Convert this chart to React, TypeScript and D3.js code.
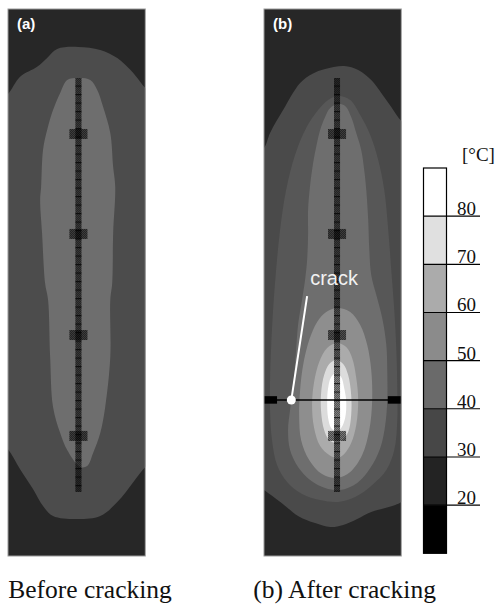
import React, { useEffect, useRef } from "react";
import * as d3 from "d3";

type Pt = [number, number];

// Specimen coordinates: x across the section (0-100), y down from the top (0-400).
// Each ring is the outline of the zone hotter than the named temperature.

// (a) before cracking
const beforeIso30: Pt[] = [
  [-6, 66], [0, 62.1], [8.8, 49.6], [21.2, 42.3], [28.5, 35.8], [35.8, 29.2], [51.1, 27.7],
  [67.2, 29.9], [79.6, 35.8], [89.1, 44.5], [96.4, 53.3], [100, 57.7], [106, 62], [106, 330],
  [100, 335], [91.2, 346], [79.6, 360.6], [67.2, 370.8], [51.1, 373], [32.8, 370.8],
  [25.5, 363.5], [18.2, 351], [8.8, 336.5], [0, 322], [-6, 316],
];
const beforeIso40: Pt[] = [
  [51.1, 50.5], [59.9, 51.9], [65.0, 59.2], [69.3, 71.7], [74.5, 90.7], [76.6, 115.5],
  [78.1, 130.2], [76.6, 163.8], [75.9, 200.4], [74.5, 212.8], [74.5, 254.5], [70.8, 291.0],
  [67.2, 310.1], [62.0, 324.7], [57.7, 334.2], [52.6, 334.9], [43.1, 322.5], [38.0, 310.1],
  [32.8, 291.0], [30.7, 254.5], [29.2, 212.8], [27.0, 200.4], [24.8, 163.8], [23.4, 139.7],
  [24.1, 130.2], [25.5, 103.1], [28.5, 88.5], [32.8, 73.9], [38.0, 61.4], [43.1, 51.9],
];

// (b) after cracking
const afterIso30: Pt[] = [
  [-6, 105], [0, 101.6], [4.4, 90.7], [13.9, 73.9], [26.3, 54.1], [35.0, 47.5], [44.5, 43.9],
  [58.4, 41.7], [68.6, 44.6], [78.1, 51.9], [85.4, 61.4], [92.7, 71.7], [100, 81.9], [106, 86],
  [106, 356], [100, 360.5], [95.6, 362.7], [88.3, 364.9], [78.1, 367.8], [67.9, 372.9],
  [57.7, 377.3], [48.2, 378.8], [37.2, 375.9], [24.8, 370.7], [14.6, 362.7], [5.1, 355.4],
  [0, 351.7], [-6, 348],
];
const afterIso35: Pt[] = [
  [54.0, 63.6], [62.8, 66.5], [70.1, 77.5], [77.4, 92.1], [83.2, 110.4], [87.6, 132.4],
  [90.5, 161.6], [92.7, 190.9], [94.9, 220.1], [96.4, 249.4], [97.1, 278.6], [97.1, 300.6],
  [94.9, 322.5], [89.1, 337.1], [78.8, 348.1], [66.4, 356.9], [54.0, 360.5], [40.9, 359.1],
  [27.7, 354.7], [16.8, 345.9], [9.5, 333.5], [5.8, 315.2], [4.4, 293.3], [4.4, 271.3],
  [5.1, 249.4], [6.6, 220.1], [8.8, 190.9], [11.7, 161.6], [16.1, 132.4], [22.6, 106.8],
  [30.7, 87.0], [39.4, 73.9], [46.7, 66.5],
];
const afterIso40: Pt[] = [
  [54.0, 69.5], [59.1, 70.9], [63.5, 79.0], [67.2, 90.7], [70.8, 103.1], [73.0, 117.7],
  [74.5, 132.4], [75.9, 154.3], [76.7, 176.2], [78.1, 194.5], [81.8, 209.2], [86.1, 226.0],
  [89.1, 245.7], [89.8, 265.5], [89.8, 285.9], [88.3, 304.2], [84.7, 321.0], [77.4, 335.7],
  [67.9, 346.6], [55.5, 351.8], [44.5, 350.3], [33.6, 344.4], [24.8, 334.9], [19.0, 322.5],
  [17.5, 307.9], [19.0, 293.3], [20.4, 282.3], [21.9, 267.7], [23.4, 249.4], [24.8, 231.1],
  [27.7, 212.8], [29.9, 198.2], [31.4, 183.6], [32.1, 165.3], [32.1, 147.0], [33.6, 128.7],
  [35.8, 112.6], [38.0, 100.9], [40.9, 88.5], [44.5, 79.0], [48.2, 72.4],
];
const afterIso50: Pt[] = [
  [53.3, 218.7], [62.8, 221.6], [70.1, 231.1], [75.2, 245.7], [78.1, 264.0], [78.8, 285.9],
  [76.7, 307.9], [71.5, 326.2], [62.8, 338.6], [53.3, 343.0], [42.3, 340.1], [32.9, 329.8],
  [27.0, 315.2], [25.6, 296.9], [26.3, 278.6], [28.5, 260.3], [32.9, 242.1], [38.7, 228.9],
  [45.3, 221.6],
];
const afterIso60: Pt[] = [
  [53.3, 244.3], [59.9, 247.2], [64.2, 255.2], [67.2, 269.9], [68.6, 285.9], [67.2, 304.2],
  [63.5, 317.4], [58.4, 325.4], [53.3, 328.4], [47.5, 326.2], [40.9, 319.6], [36.5, 306.4],
  [35.0, 289.6], [36.5, 272.8], [40.2, 258.1], [46.0, 247.9],
];
const afterIso70: Pt[] = [
  [52.6, 256.7], [57.7, 259.6], [61.3, 267.7], [63.5, 282.3], [63.5, 296.9], [61.3, 309.3],
  [56.9, 315.2], [52.6, 317.4], [47.5, 315.2], [43.8, 307.9], [41.6, 294.7], [41.6, 280.8],
  [43.8, 267.7], [47.5, 259.6],
];
const afterIso80: Pt[] = [
  [52.6, 266.2], [56.2, 269.1], [58.4, 277.2], [59.9, 287.4], [59.1, 299.1], [56.2, 306.4],
  [52.6, 308.6], [48.9, 306.4], [46.7, 299.1], [46.0, 287.4], [46.7, 277.2], [48.9, 269.1],
];

const rebarX = [51.3, 53.2]; // (a), (b)
const rebarSpan: [number, number] = [50.5, 353.2];
const sensorDepths = [91.4, 164.5, 238.4, 312.2];

const crackDepth = 285.9;
const crackTip: Pt = [19.9, 285.9];
const crackLeaderEnd: Pt = [31.4, 209.9];
const crackLabelAt: Pt = [33.6, 201.8];
const crackPlates: Pt[] = [[0, 9.5], [90.2, 100]];

const legendEdges = [10, 20, 30, 40, 50, 60, 70, 80, 90];
const legendLevels = [20, 30, 40, 50, 60, 70, 80];
const legendColors = ["#000000", "#232323", "#474747", "#6a6a6a", "#8b8b8b", "#ababab", "#e0e0e0", "#ffffff"];

const panelTitles = ["(a)", "(b)"];
const captions = ["Before cracking", "(b) After cracking"];

const App = () => {
  const svgRef = useRef<SVGSVGElement>(null);

  useEffect(() => {
    const svg = d3.select(svgRef.current);
    svg.selectAll("*").remove();

    const panelW = 137.3;
    const panelH = 547;
    const panelTop = 9;
    const panelLefts = [8, 264];

    const x = d3.scaleLinear().domain([0, 100]).range([0, panelW]);
    const y = d3.scaleLinear().domain([0, 400]).range([0, panelH]);

    const ring = d3
      .line<Pt>()
      .x((d) => x(d[0]))
      .y((d) => y(d[1]))
      .curve(d3.curveCatmullRomClosed.alpha(0.5));

    const defs = svg.append("defs");
    defs
      .append("clipPath")
      .attr("id", "panelClip")
      .append("rect")
      .attr("width", panelW)
      .attr("height", panelH);

    const ticks = defs
      .append("pattern")
      .attr("id", "rebarTicks")
      .attr("patternUnits", "userSpaceOnUse")
      .attr("width", 8)
      .attr("height", 8.5);
    ticks.append("rect").attr("width", 8).attr("height", 1.2).attr("fill", "#000");

    const grain = defs
      .append("pattern")
      .attr("id", "grain")
      .attr("patternUnits", "userSpaceOnUse")
      .attr("width", 2)
      .attr("height", 2);
    grain.append("rect").attr("width", 1).attr("height", 1).attr("fill", "#000");
    grain.append("rect").attr("x", 1).attr("y", 1).attr("width", 1).attr("height", 1).attr("fill", "#000");

    const panels = [
      {
        base: "#272727",
        layers: [
          { ring: beforeIso30, fill: "#4c4c4c" },
          { ring: beforeIso40, fill: "#6e6e6e" },
        ],
      },
      {
        base: "#272727",
        layers: [
          { ring: afterIso30, fill: "#4a4a4a" },
          { ring: afterIso35, fill: "#575757" },
          { ring: afterIso40, fill: "#6e6e6e" },
          { ring: afterIso50, fill: "#8e8e8e" },
          { ring: afterIso60, fill: "#ababab" },
          { ring: afterIso70, fill: "#dcdcdc" },
          { ring: afterIso80, fill: "#ffffff" },
        ],
      },
    ];

    panels.forEach((panel, i) => {
      const g = svg.append("g").attr("transform", `translate(${panelLefts[i]},${panelTop})`);
      const inner = g.append("g").attr("clip-path", "url(#panelClip)");

      inner.append("rect").attr("width", panelW).attr("height", panelH).attr("fill", panel.base);
      panel.layers.forEach((l) => {
        inner.append("path").attr("d", ring(l.ring)).attr("fill", l.fill);
      });

      // rebar with gauge marks
      const rx = x(rebarX[i]);
      const rebar = inner.append("g");
      const rTop = y(rebarSpan[0]);
      const rH = y(rebarSpan[1]) - rTop;
      rebar.append("rect").attr("x", rx - 3).attr("y", rTop).attr("width", 6).attr("height", rH)
        .attr("fill", "#000").attr("opacity", 0.5);
      rebar.append("rect").attr("x", rx - 3).attr("y", rTop).attr("width", 6).attr("height", rH)
        .attr("fill", "url(#grain)").attr("opacity", 0.35);
      rebar.append("rect").attr("x", rx - 3).attr("y", rTop).attr("width", 6).attr("height", rH)
        .attr("fill", "url(#rebarTicks)").attr("opacity", 0.7);

      sensorDepths.forEach((d) => {
        rebar.append("rect").attr("x", rx - 9).attr("y", y(d) - 5).attr("width", 18).attr("height", 10)
          .attr("fill", "#000").attr("opacity", 0.45);
        rebar.append("rect").attr("x", rx - 9).attr("y", y(d) - 5).attr("width", 18).attr("height", 10)
          .attr("fill", "url(#grain)").attr("opacity", 0.4);
      });

      if (i === 1) {
        inner.append("line")
          .attr("x1", x(0)).attr("x2", x(100))
          .attr("y1", y(crackDepth)).attr("y2", y(crackDepth))
          .attr("stroke", "#000").attr("stroke-width", 1.5);
        crackPlates.forEach((p) => {
          inner.append("rect")
            .attr("x", x(p[0])).attr("width", x(p[1]) - x(p[0]))
            .attr("y", y(crackDepth) - 3.8).attr("height", 7.5)
            .attr("fill", "#000");
        });
        inner.append("line")
          .attr("x1", x(crackLeaderEnd[0])).attr("y1", y(crackLeaderEnd[1]))
          .attr("x2", x(crackTip[0])).attr("y2", y(crackTip[1]))
          .attr("stroke", "#fff").attr("stroke-width", 2);
        inner.append("circle")
          .attr("cx", x(crackTip[0])).attr("cy", y(crackTip[1])).attr("r", 4.5)
          .attr("fill", "#fff");
        inner.append("text")
          .attr("x", x(crackLabelAt[0])).attr("y", y(crackLabelAt[1]))
          .attr("font-family", "'Liberation Sans', Arial, sans-serif")
          .attr("font-size", 20)
          .attr("fill", "#f2f2f2")
          .text("crack");
      }

      g.append("rect").attr("width", panelW).attr("height", panelH)
        .attr("fill", "none").attr("stroke", "#9a9a9a").attr("stroke-width", 1);

      g.append("text")
        .attr("x", 9).attr("y", 20)
        .attr("font-family", "'Liberation Sans', Arial, sans-serif")
        .attr("font-weight", "bold")
        .attr("font-size", 15)
        .attr("fill", "#fff")
        .text(panelTitles[i]);
    });

    // captions
    const captionX = [8.3, 253.3];
    captions.forEach((c, i) => {
      svg.append("text")
        .attr("x", captionX[i]).attr("y", 597.5)
        .attr("font-family", "'Liberation Serif', 'Times New Roman', serif")
        .attr("font-size", 25.5)
        .attr("fill", "#111")
        .text(c);
    });

    // colour bar
    const barX = 423.5;
    const barW = 23;
    const cb = d3.scaleLinear().domain([10, 90]).range([553.3, 168]);
    const bar = svg.append("g");
    legendColors.forEach((col, k) => {
      bar.append("rect")
        .attr("x", barX).attr("width", barW)
        .attr("y", cb(legendEdges[k + 1])).attr("height", cb(legendEdges[k]) - cb(legendEdges[k + 1]))
        .attr("fill", col);
    });
    bar.append("rect")
      .attr("x", barX).attr("width", barW)
      .attr("y", cb(90)).attr("height", cb(10) - cb(90))
      .attr("fill", "none").attr("stroke", "#000").attr("stroke-width", 1.2);
    legendLevels.forEach((v) => {
      bar.append("line")
        .attr("x1", barX).attr("x2", 480)
        .attr("y1", cb(v)).attr("y2", cb(v))
        .attr("stroke", "#000").attr("stroke-width", 1.1);
      bar.append("text")
        .attr("x", 457).attr("y", cb(v) - 1)
        .attr("font-family", "'Liberation Serif', 'Times New Roman', serif")
        .attr("font-size", 19)
        .attr("fill", "#111")
        .text(v);
    });
    bar.append("text")
      .attr("x", 462).attr("y", 161)
      .attr("font-family", "'Liberation Serif', 'Times New Roman', serif")
      .attr("font-size", 19)
      .attr("fill", "#111")
      .text("[°C]");
  }, []);

  return (
    <svg
      ref={svgRef}
      width={497}
      height={604}
      style={{ position: "absolute", left: 0, top: 0, display: "block", background: "#fff" }}
    />
  );
};

export default App;
